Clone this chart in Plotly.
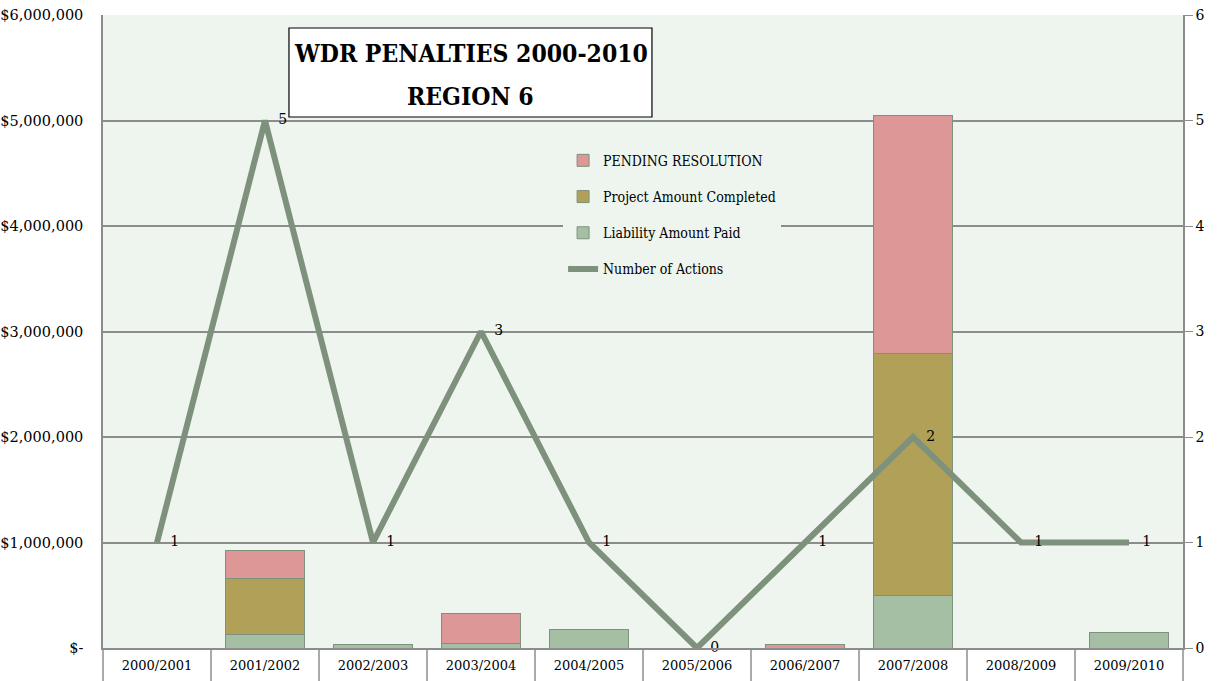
import plotly.graph_objects as go

categories = ["2000/2001", "2001/2002", "2002/2003", "2003/2004", "2004/2005",
              "2005/2006", "2006/2007", "2007/2008", "2008/2009", "2009/2010"]
liability_paid = [0, 125000, 30000, 47000, 177000, 0, 0, 502000, 0, 145000]
project_completed = [0, 530000, 0, 0, 0, 0, 0, 2285000, 0, 0]
pending_resolution = [0, 265000, 0, 282000, 0, 0, 35000, 2256000, 0, 0]
number_of_actions = [1, 5, 1, 3, 1, 0, 1, 2, 1, 1]

y_tickvals = [0, 1000000, 2000000, 3000000, 4000000, 5000000, 6000000]
y_ticktext = ["$-", "$1,000,000", "$2,000,000", "$3,000,000", "$4,000,000",
              "$5,000,000", "$6,000,000"]
title_lines = ["WDR PENALTIES 2000-2010", "REGION 6"]

LINE_C = "#7e917c"
GRID_C = "#8c8c8c"
PLOT_BG = "#eef5ee"
SERIF = "DejaVu Serif"
COND = "DejaVu Serif Condensed, Liberation Serif, serif"

fig = go.Figure()
fig.add_trace(go.Bar(x=categories, y=liability_paid, name="Liability Amount Paid",
                     marker=dict(color="#a4bfa4", line=dict(color=LINE_C, width=1)),
                     legendrank=3, legendgroup="c"))
fig.add_trace(go.Bar(x=categories, y=project_completed, name="Project Amount Completed",
                     marker=dict(color="#b1a158", line=dict(color=LINE_C, width=1)),
                     legendrank=2, legendgroup="b"))
fig.add_trace(go.Bar(x=categories, y=pending_resolution, name="PENDING RESOLUTION",
                     marker=dict(color="#dd9797", line=dict(color=LINE_C, width=1)),
                     legendrank=1, legendgroup="a"))
fig.add_trace(go.Scatter(x=categories, y=number_of_actions, name="Number of Actions",
                         mode="lines+text", yaxis="y2", cliponaxis=False,
                         text=[str(v) for v in number_of_actions],
                         texttemplate="\u00a0\u00a0\u00a0%{text}",
                         textposition="middle right",
                         textfont=dict(family=SERIF, size=14, color="black"),
                         line=dict(color=LINE_C, width=6),
                         legendrank=4, legendgroup="d"))

fig.update_layout(
    width=1225, height=681,
    margin=dict(l=103, r=42, t=15, b=33),
    paper_bgcolor="white",
    plot_bgcolor=PLOT_BG,
    barmode="stack",
    bargap=0.27,
    font=dict(family=SERIF, size=12, color="black"),
    xaxis=dict(type="category", showgrid=False, showline=True, linecolor=GRID_C,
               linewidth=1.5, ticks="outside", tickson="boundaries", ticklen=33,
               tickcolor="#aaaaaa", tickwidth=1.5, ticklabelstandoff=5,
               automargin=False,
               tickfont=dict(family=SERIF, size=13)),
    yaxis=dict(range=[0, 6000000], tickvals=y_tickvals, ticktext=y_ticktext,
               showgrid=True, gridcolor=GRID_C, gridwidth=1.5, zeroline=False,
               showline=True, linecolor=GRID_C, linewidth=1.5,
               ticks="", ticklabelstandoff=15, automargin=False,
               tickfont=dict(family=SERIF, size=14.5)),
    yaxis2=dict(range=[0, 6], dtick=1, overlaying="y", side="right",
                showgrid=False, zeroline=False, showline=True, linecolor=GRID_C,
                linewidth=1.5, ticks="outside", ticklen=8, tickcolor=GRID_C,
                automargin=False,
                tickfont=dict(family=SERIF, size=14)),
    legend=dict(x=0.426, y=0.795, xanchor="left", yanchor="top",
                bgcolor=PLOT_BG, traceorder="grouped", tracegroupgap=15,
                font=dict(family=COND, size=14), itemwidth=30),
    showlegend=True,
)

fig.add_shape(type="rect", xref="paper", yref="paper",
              x0=0.1722, x1=0.5083, y0=0.8389, y1=0.9795,
              fillcolor="white", line=dict(color="black", width=1.2), layer="above")
fig.add_annotation(
    xref="paper", yref="paper", x=0.3403, y=0.9385, xanchor="center", yanchor="middle",
    text="<b>" + title_lines[0] + "</b>", showarrow=False,
    font=dict(family=COND, size=24.5, color="black"),
)
fig.add_annotation(
    xref="paper", yref="paper", x=0.3403, y=0.872, xanchor="center", yanchor="middle",
    text="<b>" + title_lines[1] + "</b>", showarrow=False,
    font=dict(family=COND, size=24.5, color="black"),
)

fig.write_html("out.html", config={"displayModeBar": False},
               post_script="document.body.style.margin='0';")
